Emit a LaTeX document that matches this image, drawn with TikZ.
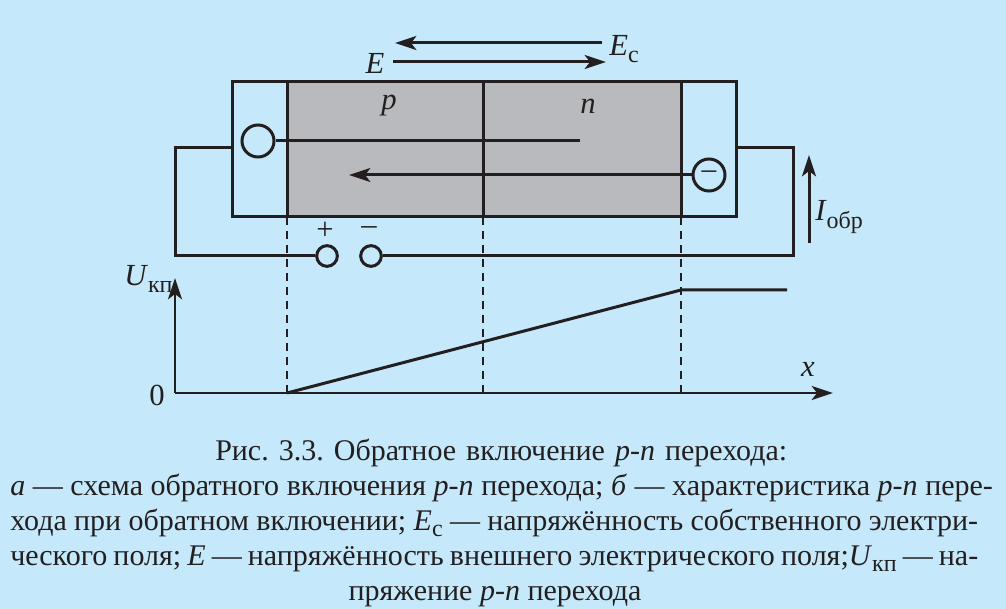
\documentclass[tikz,border=0pt]{standalone}
\usepackage{fontspec}
\setmainfont{Liberation Serif}
\usetikzlibrary{arrows.meta}
\definecolor{bgblue}{HTML}{C5E9FA}
\definecolor{basegray}{HTML}{B9BABE}
\definecolor{inkblack}{HTML}{231F20}
\frenchspacing
\newcommand{\lowtext}[1]{\raisebox{-0.5ex}{\fontsize{18pt}{18pt}\selectfont #1}}
\tikzset{
  wire/.style={inkblack,line width=2.25pt},
  frame/.style={inkblack,line width=2.25pt},
  guide/.style={inkblack,line width=1.2pt,dash pattern=on 6pt off 4.5pt},
  arrowline/.style={inkblack,line width=2.25pt,-{Stealth[length=16pt,width=10.5pt,inset=4pt]}},
  contact/.style={draw=inkblack,circle,line width=2.25pt,minimum size=24pt,inner sep=0pt},
  clamp/.style={draw=inkblack,fill=bgblue,circle,line width=2.25pt,minimum size=15.5pt,inner sep=0pt},
  letter/.style={inkblack,inner sep=0pt,font=\fontsize{23pt}{23pt}\selectfont},
  captionline/.style={inkblack,inner sep=0pt,font=\fontsize{22.5pt}{23pt}\selectfont}
}
\begin{document}
\begin{tikzpicture}[x=0.75pt,y=-0.75pt]
  \fill[bgblue] (0,0) rectangle (1006,609);
  \useasboundingbox (0,0) rectangle (1006,609);
  % semiconductor and contacts
  \fill[basegray] (287,82) rectangle (681,217);
  \draw[frame] (232,82) rectangle (736,217);
  \foreach \pos in {287,483,681}
    \draw[frame] (\pos,82) -- (\pos,217);
  \foreach \pos in {287,483,681}
    \draw[guide] (\pos,217) -- (\pos,393);
  % circles
  \node[contact] (holes) at (258,141) {};
  \node[contact,text=inkblack,font=\fontsize{22pt}{22pt}\selectfont] (electrons) at (709,175) {\textendash};
  \foreach \name/\pos in {{plus/(327,256)},{minus/(371,256)}}
    \node[clamp] (\name) at \pos {};
  % wires
  \coordinate (holesend) at (580,141);
  \coordinate (electronsend) at (349,175);
  \coordinate (leftout) at (232,148);
  \coordinate (rightout) at (736,148);
  \coordinate (leftdown) at (175,256);
  \coordinate (rightdown) at (793,256);
  \draw[wire] (holes) -- (holesend);
  \draw[arrowline] (electrons) -- (electronsend);
  \draw[wire] (leftout) -| (leftdown) -- (plus);
  \draw[wire] (rightout) -| (rightdown) -- (minus);
  % field and current arrows
  \coordinate (fieldA) at (602,43);
  \coordinate (fieldB) at (395,43);
  \coordinate (fieldC) at (393,62);
  \coordinate (fieldD) at (606,62);
  \coordinate (currentA) at (809,243);
  \coordinate (currentB) at (809,155);
  \draw[arrowline] (fieldA) -- (fieldB);
  \draw[arrowline] (fieldC) -- (fieldD);
  \draw[arrowline] (currentA) -- (currentB);
  % graph
  \coordinate (origin) at (175,393);
  \coordinate (yend) at (175,278);
  \coordinate (xend) at (833,393);
  \coordinate (start) at (287,393);
  \coordinate (knee) at (681,290);
  \coordinate (tail) at (787,290);
  \draw[arrowline,line width=1.7pt] (origin) -- (yend);
  \draw[arrowline,line width=1.7pt] (origin) -- (xend);
  \draw[wire] (start) -- (knee) -- (tail);
  % labels
  \node[letter] (labelE) at (375,63) {\textit{E}};
  \node[letter,anchor=west] (labelEc) at (609,49) {\textit{E}\lowtext{с}};
  \node[letter] (labelp) at (389,106) {\textit{p}};
  \node[letter] (labeln) at (588,106) {\textit{n}};
  \node[letter] (labelplus) at (325,231) {+};
  \node[letter] (labelminus) at (369,231) {\textendash};
  \node[letter,anchor=west] (labelI) at (815,217) {\textit{I}\lowtext{обр}};
  \node[letter,anchor=west] (labelU) at (124,279) {\textit{U}\lowtext{кп}};
  \node[letter] (labelzero) at (157,395) {0};
  \node[letter] (labelx) at (808,369) {\textit{x}};
  % caption
  \node[captionline,anchor=base west] (captionA) at (215,460) {\makebox[429pt][s]{Рис. 3.3. Обратное включение \textit{p-n} перехода:}};
  \node[captionline,anchor=base west] (captionB) at (10,495) {\makebox[737pt][s]{\textit{а} — схема обратного включения \textit{p-n} перехода; \textit{б} — характеристика \textit{p-n} пере-}};
  \node[captionline,anchor=base west] (captionC) at (10,530) {\makebox[726pt][s]{хода при обратном включении; \textit{E}\lowtext{с} — напряжённость собственного электри-}};
  \node[captionline,anchor=base west] (captionD) at (10,565) {\makebox[726pt][s]{ческого поля; \textit{E} — напряжённость внешнего электрического поля;\textit{U}\lowtext{кп} — на-}};
  \node[captionline,anchor=base] (captionE) at (495,600) {пряжение \textit{p-n} перехода};
\end{tikzpicture}
\end{document}
